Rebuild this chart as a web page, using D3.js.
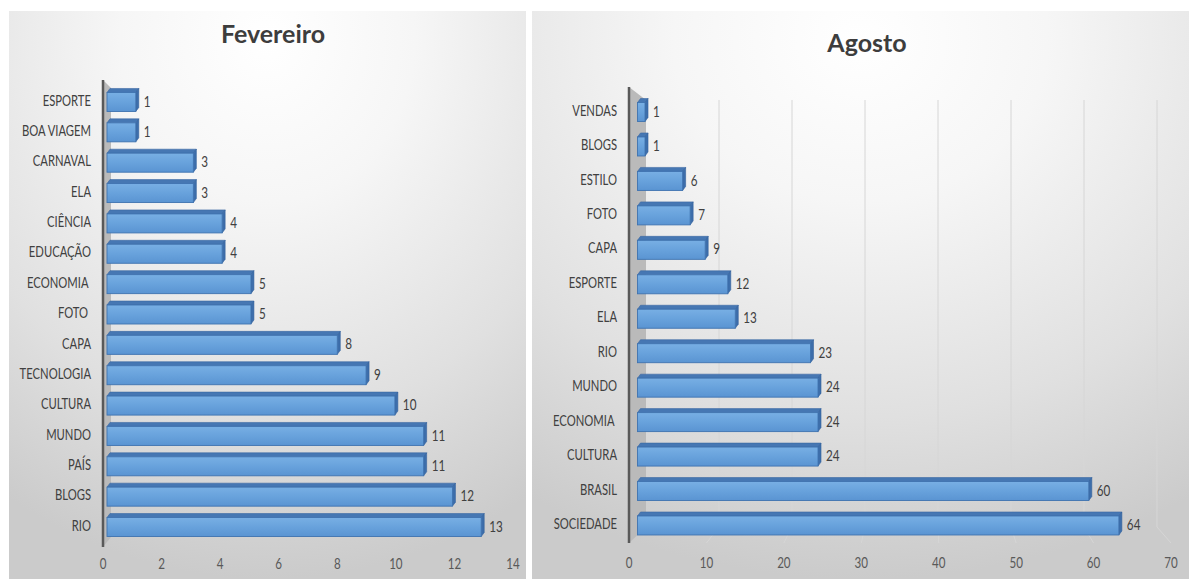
<!DOCTYPE html>
<html><head><meta charset="utf-8">
<script src="https://cdn.jsdelivr.net/npm/d3@7"></script>
<style>body{margin:0;background:#fff} svg{display:block}</style>
</head><body><svg id="c" width="1189" height="579"></svg>
<script>
// ---- data ----
const febCategories = ["ESPORTE","BOA VIAGEM","CARNAVAL","ELA","CIÊNCIA","EDUCAÇÃO","ECONOMIA ","FOTO ","CAPA","TECNOLOGIA","CULTURA","MUNDO","PAÍS","BLOGS","RIO"];
const febValues = [1,1,3,3,4,4,5,5,8,9,10,11,11,12,13];
const febTicks = [0,2,4,6,8,10,12,14];
const augCategories = ["VENDAS","BLOGS","ESTILO","FOTO","CAPA","ESPORTE","ELA","RIO","MUNDO","ECONOMIA ","CULTURA","BRASIL","SOCIEDADE"];
const augValues = [1,1,6,7,9,12,13,23,24,24,24,60,64];
const augTicks = [0,10,20,30,40,50,60,70];

const panels = [
  {cats: febCategories, vals: febValues, ticks: febTicks, title: "Fevereiro",
   box:[9,11,517,568], titleX:273, titleY:43, front:[103,513], back:[111,507],
   axisY:[80,547], wallY:[88,537], band:[84.8,540.2], labelX:91, tickY:569, grid:false},
  {cats: augCategories, vals: augValues, ticks: augTicks, title: "Agosto",
   box:[532,11,657,568], titleX:867, titleY:52, front:[629,1171], back:[646,1157],
   axisY:[87,543], wallY:[100,527], band:[92.8,540.7], labelX:617, tickY:568, grid:true}
];

const svg = d3.select("#c");
const defs = svg.append("defs");
const bg = defs.append("radialGradient").attr("id","bg").attr("cx","50%").attr("cy","5%").attr("r","95%").attr("fx","50%").attr("fy","5%");
[["0","#ffffff"],["0.3","#f6f6f6"],["0.7","#e0e0e0"],["1","#cbcbcb"]].forEach(([o,c])=>bg.append("stop").attr("offset",o).attr("stop-color",c));
const fg = defs.append("linearGradient").attr("id","front").attr("x1",0).attr("y1",0).attr("x2",0).attr("y2",1);
[["0","#78afe4"],["0.5","#68a2dc"],["1","#5a94d2"]].forEach(([o,c])=>fg.append("stop").attr("offset",o).attr("stop-color",c));

const FH = 19, DY = 4, DX = 3;
const font = "Lato, 'Open Sans', sans-serif";

function txt(sel, x, y, size, sx) {
  return sel.attr("transform", (d,i) => `translate(${typeof x==="function"?x(d,i):x},${typeof y==="function"?y(d,i):y}) scale(${sx},1)`)
    .attr("font-family", font).attr("font-size", size);
}

panels.forEach(p => {
  const g = svg.append("g");
  const [bx,by,bw,bh] = p.box;
  g.append("rect").attr("x",bx).attr("y",by).attr("width",bw).attr("height",bh).attr("fill","url(#bg)");

  const max = p.ticks[p.ticks.length-1];
  const xF = d3.scaleLinear().domain([0,max]).range(p.front);
  const xB = d3.scaleLinear().domain([0,max]).range(p.back);
  const xM = v => (xF(v)+xB(v))/2;
  const y = d3.scaleBand().domain(p.cats).range(p.band);

  // title
  g.append("text").attr("x",p.titleX).attr("y",p.titleY).attr("text-anchor","middle")
    .attr("font-family","Lato, sans-serif").attr("font-weight",700).attr("font-size",25)
    .attr("fill","#3d3d3d").text(p.title);

  // gridlines on back wall + floor
  if (p.grid) {
    const gv = p.ticks.filter(t=>t>0);
    g.selectAll(".gl").data(gv).join("line")
      .attr("x1",d=>xB(d)).attr("x2",d=>xB(d)).attr("y1",p.wallY[0]).attr("y2",p.wallY[1])
      .attr("stroke","#d6d6d6").attr("stroke-width",1);
    g.selectAll(".fl").data(gv).join("line")
      .attr("x1",d=>xB(d)).attr("x2",d=>xF(d)).attr("y1",p.wallY[1]).attr("y2",p.axisY[1])
      .attr("stroke","#d6d6d6").attr("stroke-width",1);
  }

  // side wall
  g.append("path").attr("d",`M${xF(0)},${p.axisY[0]}L${xB(0)},${p.wallY[0]}L${xB(0)},${p.wallY[1]}L${xF(0)},${p.axisY[1]}Z`)
    .attr("fill","#bababa");

  // axis line
  g.append("line").attr("x1",xF(0)).attr("x2",xF(0)).attr("y1",p.axisY[0]).attr("y2",p.axisY[1])
    .attr("stroke","#595959").attr("stroke-width",2.5);

  // bars
  const data = p.cats.map((c,i)=>({c, v:p.vals[i]}));
  const bars = g.selectAll(".bar").data(data).join("g");
  bars.each(function(d){
    const b = d3.select(this);
    const cy = y(d.c) + y.bandwidth()/2;
    const yT = cy - (FH+DY)/2;
    const x0 = xM(0), x1 = xM(d.v);
    b.append("path").attr("d",`M${x0},${yT+DY}L${x0+DX},${yT}L${x1+DX},${yT}L${x1},${yT+DY}Z`)
      .attr("fill","#4677b3").attr("stroke","#3a68a3").attr("stroke-width",0.6);
    b.append("path").attr("d",`M${x1},${yT+DY}L${x1+DX},${yT}L${x1+DX},${yT+FH}L${x1},${yT+DY+FH}Z`)
      .attr("fill","#3d6eab").attr("stroke","#34629c").attr("stroke-width",0.6);
    b.append("rect").attr("x",x0).attr("y",yT+DY).attr("width",x1-x0).attr("height",FH)
      .attr("fill","url(#front)").attr("stroke","#3f73b0").attr("stroke-width",0.9);
    txt(b.append("text"), x1+DX+5, cy+1, 15, 0.78).attr("dominant-baseline","central")
      .attr("fill","#404040").text(d.v);
  });

  // category labels
  txt(g.selectAll(".cl").data(p.cats).join("text"), p.labelX, d=>y(d)+y.bandwidth()/2, 15, 0.75)
    .attr("dominant-baseline","central")
    .attr("text-anchor","end").attr("xml:space","preserve").style("white-space","pre")
    .attr("fill","#404040").text(d=>d);

  // tick labels
  txt(g.selectAll(".tl").data(p.ticks).join("text"), d=>xF(d), p.tickY, 14.5, 0.8)
    .attr("text-anchor","middle").attr("fill","#595959").text(d=>d);
});
</script></body></html>
